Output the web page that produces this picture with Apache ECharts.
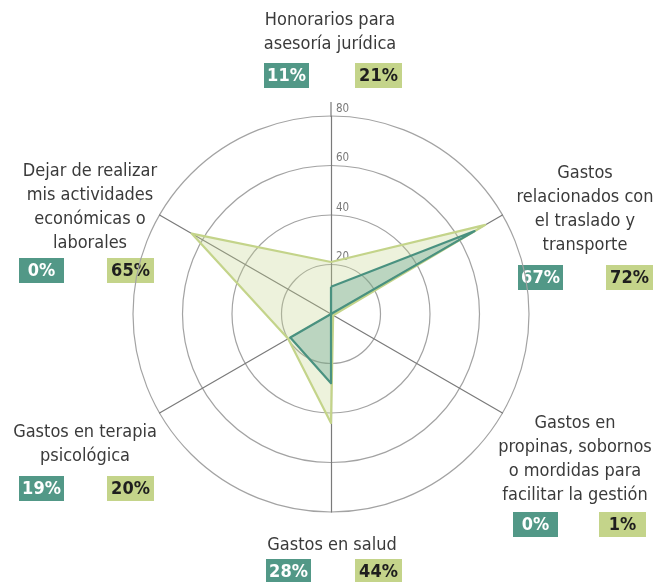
<!DOCTYPE html>
<html>
<head>
<meta charset="utf-8">
<script src="https://cdn.jsdelivr.net/npm/echarts@6/dist/echarts.min.js"></script>
<style>
  html, body { margin: 0; padding: 0; background: #fff; }
  #radar-chart { width: 655px; height: 582px; }
</style>
</head>
<body>
<div id="radar-chart"></div>
<script>
// indicadores en el orden que usa el radar (arriba y luego en sentido antihorario)
var indicadores = [
  'Honorarios para\nasesoría jurídica',
  'Dejar de realizar\nmis actividades\neconómicas o\nlaborales',
  'Gastos en terapia\npsicológica',
  'Gastos en salud',
  'Gastos en\npropinas, sobornos\no mordidas para\nfacilitar la gestión',
  'Gastos\nrelacionados con\nel traslado y\ntransporte'
]
var serieVerdeOscuro = [11, 0, 19, 28, 0, 67]
var serieVerdeClaro = [21, 65, 20, 44, 1, 72]
var escala = [0, 20, 40, 60, 80]

var fuente = "'DejaVu Sans Condensed', 'Liberation Sans Narrow', 'DejaVu Sans', sans-serif"
var colorOscuro = '#529887'
var colorClaro = '#c4d48a'

// posicion de cada etiqueta: centro del texto, y de la 1a linea, y de las cajas, x de cada caja
var layout = [
  { cx: 330, y: 20, by: 63, ax: 286, bx: 378 },
  { cx: 90, y: 171, by: 258, ax: 41, bx: 130 },
  { cx: 85, y: 432, by: 476, ax: 41, bx: 130 },
  { cx: 332, y: 545, by: 559, ax: 288, bx: 378 },
  { cx: 575, y: 423, by: 512, ax: 535, bx: 622 },
  { cx: 585, y: 173, by: 265, ax: 540, bx: 629 }
]

var chart = echarts.init(document.getElementById('radar-chart'))

var graficos = [
  // prolongacion del eje superior por encima del ultimo anillo
  {
    type: 'line',
    shape: { x1: 331, y1: 117, x2: 331, y2: 102 },
    style: { stroke: '#7a7a7a', lineWidth: 1.2 }
  }
]
indicadores.forEach(function (nombre, i) {
  var l = layout[i]
  graficos.push({
    type: 'text',
    x: l.cx,
    y: l.y - 12,
    style: {
      text: nombre,
      align: 'center',
      verticalAlign: 'top',
      lineHeight: 24,
      font: '18px ' + fuente,
      fill: '#3a3a3a'
    }
  })
  // cajas de porcentaje
  graficos.push({
    type: 'rect',
    shape: { x: l.ax - 22, y: l.by, width: 45, height: 25 },
    style: { fill: colorOscuro }
  })
  graficos.push({
    type: 'text',
    x: l.ax + 0.5,
    y: l.by + 13,
    style: {
      text: serieVerdeOscuro[i] + '%',
      align: 'center',
      verticalAlign: 'middle',
      font: 'bold 18px ' + fuente,
      fill: '#fff'
    }
  })
  graficos.push({
    type: 'rect',
    shape: { x: l.bx - 23, y: l.by, width: 47, height: 25 },
    style: { fill: colorClaro }
  })
  graficos.push({
    type: 'text',
    x: l.bx + 0.5,
    y: l.by + 13,
    style: {
      text: serieVerdeClaro[i] + '%',
      align: 'center',
      verticalAlign: 'middle',
      font: 'bold 18px ' + fuente,
      fill: '#1e1e1e'
    }
  })
})

var option = {
  backgroundColor: '#fff',
  animation: false,
  radar: {
    center: [331, 314],
    radius: 198,
    shape: 'circle',
    splitNumber: 4,
    startAngle: 90,
    indicator: indicadores.map(function (n, i) {
      var ind = { name: n, min: escala[0], max: escala[escala.length - 1] }
      // solo el eje superior lleva numeros
      if (i === 0) {
        ind.axisLabel = {
          show: true,
          showMinLabel: false,
          color: '#7a7a7a',
          fontSize: 11.5,
          fontFamily: fuente,
          align: 'left',
          verticalAlign: 'bottom',
          padding: [0, 0, 1, 9],
          margin: 4
        }
      }
      return ind
    }),
    axisName: { show: false },
    axisLabel: { show: false },
    splitArea: { show: false },
    splitLine: {
      lineStyle: { color: '#a3a3a3', width: 1.2 }
    },
    axisLine: {
      lineStyle: { color: '#7a7a7a', width: 1.2 }
    }
  },
  series: [
    {
      type: 'radar',
      symbol: 'none',
      silent: true,
      data: [
        {
          name: 'claro',
          value: serieVerdeClaro,
          lineStyle: { color: colorClaro, width: 2.2 },
          areaStyle: { color: colorClaro, opacity: 0.3 }
        },
        {
          name: 'oscuro',
          value: serieVerdeOscuro,
          lineStyle: { color: '#4a9280', width: 2.2 },
          areaStyle: { color: '#4a9280', opacity: 0.3 }
        }
      ]
    }
  ],
  graphic: graficos
}
chart.setOption(option)
</script>
</body>
</html>
